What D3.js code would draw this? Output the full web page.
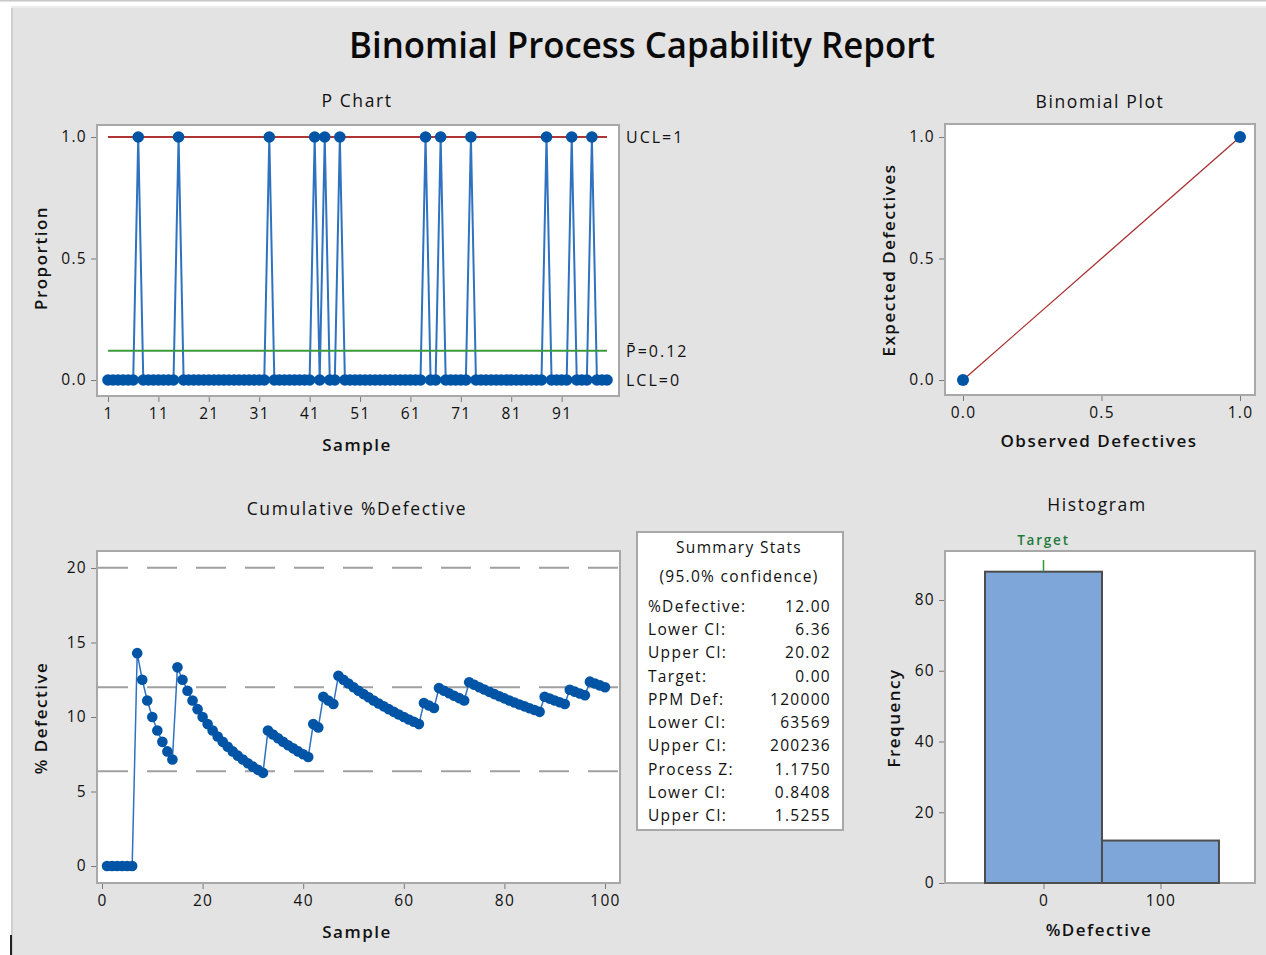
<!DOCTYPE html>
<html><head><meta charset="utf-8">
<script src="https://cdn.jsdelivr.net/npm/d3@7"></script>
<style>
body{margin:0;background:#fff;}
text{font-family:"Open Sans","Noto Sans",sans-serif;fill:#111;}
</style></head><body>
<svg id="c" width="1266" height="955"></svg>
<script>
// ---------------- data ----------------
const proportion = [0,0,0,0,0,0,1,0,0,0, 0,0,0,0,1,0,0,0,0,0, 0,0,0,0,0,0,0,0,0,0, 0,0,1,0,0,0,0,0,0,0,
                    0,1,0,1,0,0,1,0,0,0, 0,0,0,0,0,0,0,0,0,0, 0,0,0,1,0,0,1,0,0,0, 0,0,1,0,0,0,0,0,0,0,
                    0,0,0,0,0,0,0,1,0,0, 0,0,1,0,0,0,1,0,0,0];
const pBar = 0.12, ucl = 1, lcl = 0;
const pXTicks = [1,11,21,31,41,51,61,71,81,91];
const pYTicks = [0,0.5,1];
const cumXTicks = [0,20,40,60,80,100];
const cumYTicks = [0,5,10,15,20];
const cumRefLevels = [20.02, 12.00, 6.36];
const statsLabels = ["%Defective:","Lower CI:","Upper CI:","Target:","PPM Def:","Lower CI:","Upper CI:","Process Z:","Lower CI:","Upper CI:"];
const statsValues = ["12.00","6.36","20.02","0.00","120000","63569","200236","1.1750","0.8408","1.5255"];
const binomObserved = [0,1];
const binomExpected = [0,1];
const binomTicks = [0,0.5,1];
const histEdges = [-50,50,150];
const histCounts = [88,12];
const histXTicks = [0,100];
const histYTicks = [0,20,40,60,80];
const targetValue = 0;

const samples = proportion.map((d,i)=>i+1);
const cumPct = d3.cumsum(proportion).map((c,i)=>c/(i+1)*100);

// ---------------- drawing ----------------
const svg = d3.select("#c");
const BLUE = "#0054a6", LINE = "#2f72c0", FRAME = "#a8a8a8", TICK = "#7a7a7a";

// panel background
svg.append("line").attr("x1",0).attr("x2",1266).attr("y1",0.5).attr("y2",0.5).attr("stroke","#c8c8c8").attr("stroke-width",2);
svg.append("rect").attr("x",11).attr("y",6).attr("width",1255).attr("height",949).attr("fill","#e3e3e3");
svg.append("line").attr("x1",12).attr("x2",12).attr("y1",6).attr("y2",955).attr("stroke","#cfcfcf").attr("stroke-width",2);
svg.append("line").attr("x1",11).attr("x2",1266).attr("y1",7).attr("y2",7).attr("stroke","#ececec").attr("stroke-width",2);
svg.append("line").attr("x1",11).attr("x2",11).attr("y1",935).attr("y2",955).attr("stroke","#222").attr("stroke-width",2);

// title
svg.append("text").attr("x",642).attr("y",58).attr("text-anchor","middle")
  .attr("font-size",36).attr("font-weight",600).attr("textLength",586).attr("lengthAdjust","spacingAndGlyphs")
  .style("fill","#0a0a0a").text("Binomial Process Capability Report");

function frame(x0,y0,x1,y1){
  svg.append("rect").attr("x",x0).attr("y",y0).attr("width",x1-x0).attr("height",y1-y0)
    .attr("fill","#fff").attr("stroke",FRAME).attr("stroke-width",2);
}
function label(x,y,t,opts={}){
  const el = svg.append("text").attr("x",x).attr("y",y).attr("text-anchor",opts.anchor||"middle")
    .attr("dominant-baseline","central").attr("font-size",opts.size||15)
    .attr("font-weight",opts.weight||400).attr("letter-spacing",opts.ls||0).text(t);
  if(opts.rotate) el.attr("transform",`rotate(-90,${x},${y})`);
  if(opts.fill) el.style("fill",opts.fill);
  return el;
}
const TITLE = {size:17.5, weight:400, ls:1.6};
const AXT = {size:17, weight:600, ls:1.5};
function axes(x,y,xt,yt,xBase,yBase,xfmt,yfmt){
  const gx = svg.append("g").attr("transform",`translate(0,${xBase})`)
    .call(d3.axisBottom(x).tickValues(xt).tickSize(5).tickPadding(6).tickFormat(xfmt));
  const gy = svg.append("g").attr("transform",`translate(${yBase},0)`)
    .call(d3.axisLeft(y).tickValues(yt).tickSize(5).tickPadding(4).tickFormat(yfmt));
  [gx,gy].forEach(g=>{
    g.select(".domain").remove();
    g.selectAll(".tick line").attr("stroke",TICK);
    g.selectAll(".tick text").attr("font-size",15.5).attr("letter-spacing",1.3)
      .attr("font-family","Open Sans, sans-serif").style("fill","#111");
  });
}
const f1 = d3.format(".1f"), f0 = d3.format("d");

// ---------- P chart ----------
{
  const x = d3.scaleLinear().domain([1,100]).range([108,607]);
  const y = d3.scaleLinear().domain([0,1]).range([380,137]);
  frame(97,125,619,396);
  axes(x,y,pXTicks,pYTicks,397,96,f0,f1);
  svg.append("path").datum(proportion).attr("fill","none").attr("stroke",LINE).attr("stroke-width",2)
    .attr("d",d3.line().x((d,i)=>x(samples[i])).y(d=>y(d)));
  svg.append("line").attr("x1",x(1)).attr("x2",x(100)).attr("y1",y(ucl)).attr("y2",y(ucl)).attr("stroke","#b03535").attr("stroke-width",2);
  svg.append("line").attr("x1",x(1)).attr("x2",x(100)).attr("y1",y(pBar)).attr("y2",y(pBar)).attr("stroke","#3c9a3c").attr("stroke-width",2);
  svg.append("g").selectAll("circle").data(proportion).join("circle")
    .attr("cx",(d,i)=>x(samples[i])).attr("cy",d=>y(d)).attr("r",5.8).attr("fill",BLUE);
  label(357,100,"P Chart",TITLE);
  label(357,444,"Sample",AXT);
  label(40,258,"Proportion",{...AXT,rotate:true});
  const RL = {anchor:"start",size:16,ls:2};
  label(626,y(ucl),"UCL=1",RL);
  label(626,y(pBar),"P\u0304=0.12",RL);
  label(626,y(lcl),"LCL=0",RL);
}

// ---------- Cumulative %Defective ----------
{
  const x = d3.scaleLinear().domain([0,100]).range([102,605]);
  const y = d3.scaleLinear().domain([0,20]).range([866,568]);
  frame(97,551,620,883);
  axes(x,y,cumXTicks,cumYTicks,884,96,f0,f0);
  cumRefLevels.forEach(v=>{
    svg.append("line").attr("x1",98).attr("x2",619).attr("y1",y(v)).attr("y2",y(v))
      .attr("stroke","#a0a0a0").attr("stroke-width",2).attr("stroke-dasharray","30,19");
  });
  svg.append("path").datum(cumPct).attr("fill","none").attr("stroke",LINE).attr("stroke-width",1.5)
    .attr("d",d3.line().x((d,i)=>x(samples[i])).y(d=>y(d)));
  svg.append("g").selectAll("circle").data(cumPct).join("circle")
    .attr("cx",(d,i)=>x(samples[i])).attr("cy",d=>y(d)).attr("r",5.3).attr("fill",BLUE);
  label(357,508,"Cumulative %Defective",TITLE);
  label(357,931,"Sample",AXT);
  label(40,718,"% Defective",{...AXT,rotate:true});
}

// ---------- Summary stats ----------
{
  svg.append("rect").attr("x",637).attr("y",532).attr("width",206).attr("height",298)
    .attr("fill","#fff").attr("stroke",FRAME).attr("stroke-width",2);
  const ST = {size:15.5, ls:1.3};
  label(739,547,"Summary Stats",ST);
  label(739,576,"(95.0% confidence)",ST);
  const rowY = d3.scalePoint().domain(d3.range(statsLabels.length)).range([606,815]);
  statsLabels.forEach((t,i)=>{
    label(648,rowY(i),t,{...ST,anchor:"start"});
    label(831,rowY(i),statsValues[i],{...ST,anchor:"end"});
  });
}

// ---------- Binomial plot ----------
{
  const x = d3.scaleLinear().domain([0,1]).range([963,1240]);
  const y = d3.scaleLinear().domain([0,1]).range([380,137]);
  frame(945,124,1255,395);
  axes(x,y,binomTicks,binomTicks,396,944,f1,f1);
  svg.append("line").attr("x1",x(0)).attr("y1",y(0)).attr("x2",x(1)).attr("y2",y(1)).attr("stroke","#a83030").attr("stroke-width",1.3);
  svg.append("g").selectAll("circle").data(binomObserved).join("circle")
    .attr("cx",d=>x(d)).attr("cy",(d,i)=>y(binomExpected[i])).attr("r",6).attr("fill",BLUE);
  label(1100,101,"Binomial Plot",TITLE);
  label(1099,440,"Observed Defectives",AXT);
  label(888,260,"Expected Defectives",{...AXT,rotate:true});
}

// ---------- Histogram ----------
{
  const x = d3.scaleLinear().domain([-84.2,180.8]).range([945,1255]);
  const y = d3.scaleLinear().domain([0,93.85]).range([883,551]);
  frame(945,551,1255,883);
  axes(x,y,histXTicks,histYTicks,884,944,f0,f0);
  svg.append("g").selectAll("rect").data(histCounts).join("rect")
    .attr("x",(d,i)=>x(histEdges[i])).attr("width",(d,i)=>x(histEdges[i+1])-x(histEdges[i]))
    .attr("y",d=>y(d)).attr("height",d=>y(0)-y(d))
    .attr("fill","#7ea6d8").attr("stroke","#4d4d4d").attr("stroke-width",2);
  svg.append("line").attr("x1",x(targetValue)).attr("x2",x(targetValue)).attr("y1",y(91.3)).attr("y2",y(88))
    .attr("stroke","#2a9a3a").attr("stroke-width",1.5);
  label(x(targetValue),540,"Target",{size:13.5,ls:1.8,fill:"#1f7a3a",weight:600});
  label(1097,504,"Histogram",TITLE);
  label(1099,929,"%Defective",AXT);
  label(893,718,"Frequency",{...AXT,rotate:true});
}
</script>
</body></html>
